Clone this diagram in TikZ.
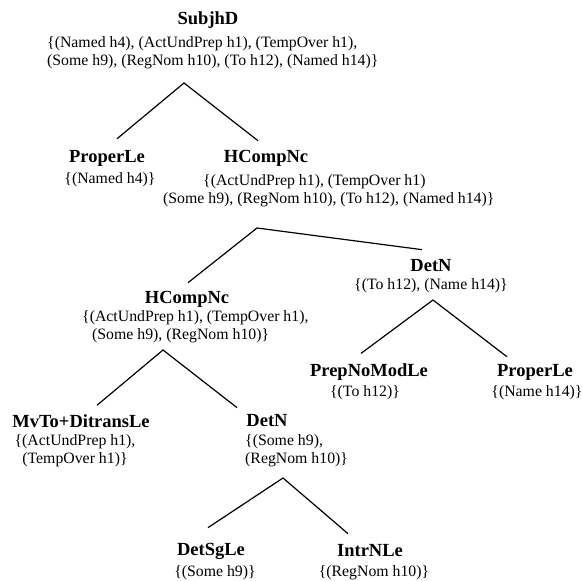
\documentclass[tikz,border=0pt]{standalone}
\usepackage{fontspec}
\setmainfont{Liberation Serif}
\usetikzlibrary{positioning}

\tikzset{
  cat/.style={font=\fontsize{18.5}{20}\selectfont\bfseries, inner sep=1pt},
  sem/.style={font=\fontsize{15.8}{18}\selectfont, inner sep=1pt},
  branch/.style={line width=1.2pt},
}

\begin{document}
\begin{tikzpicture}[x=1pt,y=-1pt]
    \useasboundingbox (0,0) rectangle (582,581);

    % Root
    \node[cat] (subj) at (208,20) {SubjhD};
    \node[sem, align=left, anchor=north west] (subjSet) at (46,35)
        {\{(Named h4), (ActUndPrep h1), (TempOver h1),\\
         (Some h9), (RegNom h10), (To h12), (Named h14)\}};
    \coordinate (subjTop) at (184,83);

    % Second level
    \node[cat] (properA) at (107,158) {ProperLe};
    \node[sem] (properASet) at (110,180) {\{(Named h4)\}};

    \node[cat] (hcA) at (266,158) {HCompNc};
    \node[sem, align=left, anchor=north west] (hcASet) at (162,173)
        {\hspace*{40pt}\{(ActUndPrep h1), (TempOver h1)\\
         (Some h9), (RegNom h10), (To h12), (Named h14)\}};
    \coordinate (hcATop) at (257,228);

    % Third level
    \node[cat] (hcB) at (187,299) {HCompNc};
    \node[sem, align=left, anchor=north west] (hcBSet) at (81,309)
        {\{(ActUndPrep h1), (TempOver h1),\\
         \hspace*{10pt}(Some h9), (RegNom h10)\}};
    \coordinate (hcBTop) at (163,350);

    \node[cat] (detA) at (431,266) {DetN};
    \node[sem] (detASet) at (431,286) {\{(To h12), (Name h14)\}};
    \coordinate (detATop) at (433,300);

    % Children of DetN
    \node[cat] (prep) at (369,372) {PrepNoModLe};
    \node[sem] (prepSet) at (365,393) {\{(To h12)\}};

    \node[cat] (properB) at (535,372) {ProperLe};
    \node[sem] (properBSet) at (537,393) {\{(Name h14)\}};

    % Children of HCompNc
    \node[cat] (mvto) at (81,421) {MvTo+DitransLe};
    \node[sem, align=center, anchor=north] (mvtoSet) at (75,433)
        {\{(ActUndPrep h1),\\ (TempOver h1)\}};

    \node[cat] (detB) at (267,421) {DetN};
    \node[sem, align=left, anchor=north west] (detBSet) at (244,433)
        {\{(Some h9),\\ (RegNom h10)\}};
    \coordinate (detBTop) at (283,478);

    % Leaves
    \node[cat] (detsg) at (211,551) {DetSgLe};
    \node[sem] (detsgSet) at (215,573) {\{(Some h9)\}};

    \node[cat] (intrn) at (370,551) {IntrNLe};
    \node[sem] (intrnSet) at (374,573) {\{(RegNom h10)\}};

    % Branches
    \draw[branch] ([xshift=10pt,yshift=10pt]properA.north) -- (subjTop)
                  -- ([xshift=-8pt,yshift=8pt]hcA.north);
    \draw[branch] ([xshift=1pt,yshift=7pt]hcB.north) -- (hcATop)
                  -- ([xshift=-9pt,yshift=9pt]detA.north);
    \draw[branch] ([xshift=-8pt,yshift=9pt]prep.north) -- (detATop)
                  -- ([xshift=-28pt,yshift=6pt]properB.north);
    \draw[branch] ([xshift=16pt,yshift=8pt]mvto.north) -- (hcBTop)
                  -- ([xshift=-30pt,yshift=6pt]detB.north);
    \draw[branch] ([xshift=-3pt,yshift=14pt]detsg.north) -- (detBTop)
                  -- ([xshift=-22pt,yshift=10pt]intrn.north);
\end{tikzpicture}
\end{document}
